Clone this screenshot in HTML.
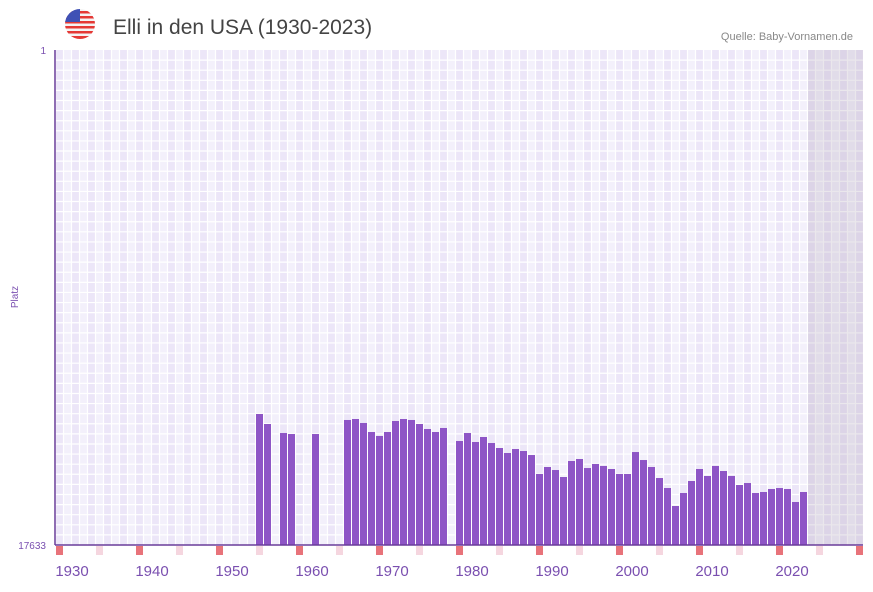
<!DOCTYPE html>
<html><head><meta charset="utf-8"><style>
body{margin:0;background:#fff;width:873px;height:587px;overflow:hidden;font-family:"Liberation Sans",sans-serif}
</style></head><body>
<svg id="chart" width="873" height="587" xmlns="http://www.w3.org/2000/svg">
<defs><clipPath id="flagclip"><circle cx="80" cy="24" r="15"/></clipPath></defs>
<g clip-path="url(#flagclip)">
<rect x="65" y="9" width="30" height="30" fill="#f4f4f4"/>
<rect x="65" y="11" width="30" height="2.5" fill="#e53935"/><rect x="65" y="16" width="30" height="2.5" fill="#e53935"/>
<rect x="65" y="21" width="30" height="2.5" fill="#e53935"/><rect x="65" y="26" width="30" height="2.5" fill="#e53935"/>
<rect x="65" y="31" width="30" height="2.5" fill="#e53935"/><rect x="65" y="36" width="30" height="3" fill="#e53935"/>
<rect x="65" y="9" width="15" height="13" fill="#3f51b5"/>
</g>
<text x="113" y="34" font-size="21" fill="#444">Elli in den USA (1930-2023)</text>
<text x="853" y="40" font-size="11" fill="#888" text-anchor="end">Quelle: Baby-Vornamen.de</text>
<g id="plot"></g>
</svg>
<script>
const years=[1953,1954,1956,1957,1960,1964,1965,1966,1967,1968,1969,1970,1971,1972,1973,1974,1975,1976,1978,1979,1980,1981,1982,1983,1984,1985,1986,1987,1988,1989,1990,1991,1992,1993,1994,1995,1996,1997,1998,1999,2000,2001,2002,2003,2004,2005,2006,2007,2008,2009,2010,2011,2012,2013,2014,2015,2016,2017,2018,2019,2020,2021];
const ranks=[12967,13323,13644,13680,13680,13180,13145,13287,13608,13750,13608,13216,13145,13180,13323,13501,13608,13465,13928,13644,13964,13786,14000,14178,14356,14214,14285,14428,15104,14855,14962,15211,14641,14570,14891,14748,14819,14926,15104,15104,14321,14606,14855,15247,15603,16244,15781,15353,14926,15175,14819,14997,15175,15496,15425,15781,15745,15638,15603,15638,16101,15745];
const xTicks=[1930,1940,1950,1960,1970,1980,1990,2000,2010,2020];
const yTicks=[1,17633];
const NS="http://www.w3.org/2000/svg";
const X0=56,CW=8,Y0=1928,PT=50,PB=545,PR=863,RMAX=17633;
function x(yr){return X0+(yr-Y0)*CW;}
function y(r){return PT+(r-1)/(RMAX-1)*(PB-PT);}
const g=document.getElementById('plot');
function mk(tag,a){const e=document.createElementNS(NS,tag);for(const k in a)e.setAttribute(k,a[k]);g.appendChild(e);return e;}
for(let i=0;i<101;i++){const r=mk('rect',{x:X0+i*CW,y:PT,width:CW,height:PB-PT,fill:i%2?'#f3f0fb':'#ece6f8'});

}
for(let i=0;i<=101;i++){const l=mk('line',{x1:X0+i*CW-0.5,x2:X0+i*CW-0.5,y1:PT,y2:PB,stroke:'#fff','stroke-width':1.2});

}
for(let j=1;j<49;j++){const yy=PB-j*(PB-PT)/49;const l=mk('line',{x1:X0,x2:PR,y1:yy,y2:yy,stroke:'#fff','stroke-width':1.2});

}
const sh=mk('rect',{x:x(2022),y:PT,width:PR-x(2022),height:PB-PT,fill:'rgba(170,160,180,0.25)'});


years.forEach((yr,i)=>{const t=y(ranks[i]);const b=mk('rect',{x:x(yr),y:t,width:CW-1,height:PB-t,fill:'#8e55c6'});

});
for(let yr=1928;yr<=2028;yr+=5){const m=mk('rect',{x:x(yr),y:PB+1,width:CW-1,height:9,fill:(yr-1928)%10===0?'#e8737a':'#f5d6df'});

}
const ax=mk('line',{x1:X0-1,x2:X0-1,y1:PT,y2:PB,stroke:'#6a3d9a','stroke-width':1.5});


const bx=mk('line',{x1:X0-1,x2:PR,y1:PB,y2:PB,stroke:'#6a3d9a','stroke-width':1.5});


xTicks.forEach(t=>{const e=mk('text',{x:x(t),y:576,'font-size':15,fill:'#7a4fb0','text-anchor':'middle'});e.textContent=t;

});
yTicks.forEach(t=>{const e=mk('text',{x:46,y:y(t)+4,'font-size':10,fill:'#7a4fb0','text-anchor':'end'});e.textContent=t;

});
const yt=mk('text',{x:18,y:297,'font-size':10,fill:'#7a4fb0','text-anchor':'middle',transform:'rotate(-90 18 297)'});yt.textContent='Platz';


</script>
</body></html>
